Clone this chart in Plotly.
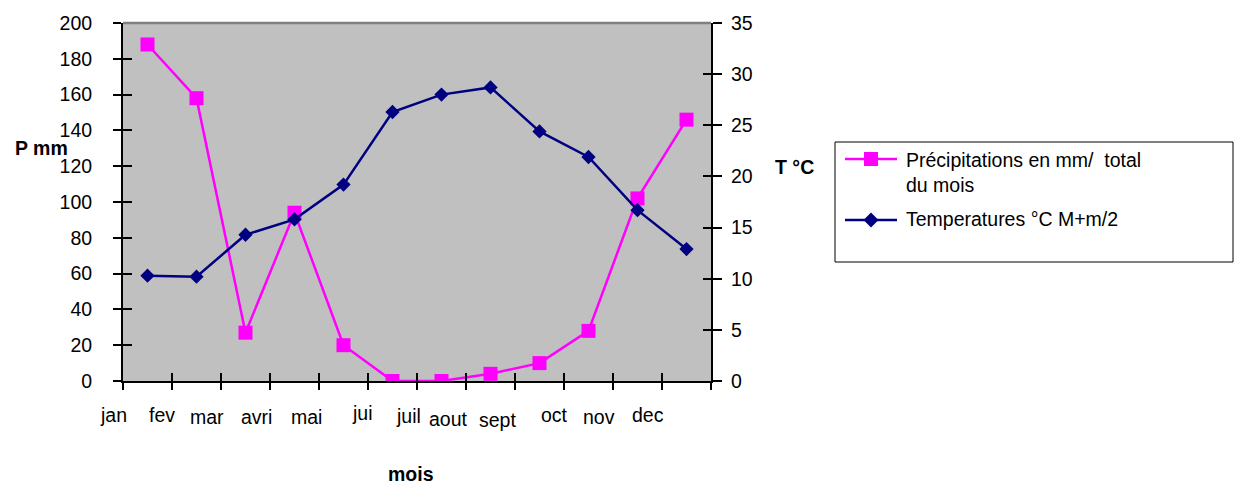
import plotly.graph_objects as go

# Monthly climate data
months = ["jan", "fev", "mar", "avri", "mai", "jui", "juil", "aout", "sept", "oct", "nov", "dec"]
precip_mm = [188, 158, 27, 94, 20, 0, 0, 4, 10, 28, 102, 146]
temp_c = [10.3, 10.2, 14.3, 15.8, 19.2, 26.3, 28.0, 28.7, 24.4, 21.9, 16.7, 12.9]

precip_name = "Précipitations en mm/\u00a0 total<br>du mois"
temp_name = "Temperatures °C M+m/2"

# Month label placement (offset in category units, distance below axis in px)
label_dx = [-0.70, -0.71, -0.78, -0.78, -0.76, -0.62, -0.68, -0.86, -0.86, -0.69, -0.78, -0.78]
label_dy = [39.7, 39.7, 41.7, 41.7, 41.7, 38.3, 40.5, 44.0, 44.5, 39.7, 41.7, 39.7]

W, H = 1240, 486
L, R, T, B = 123, 711, 23, 381
FONT = "Arial, 'Liberation Sans', sans-serif"
PINK = "#FF00FF"
NAVY = "#000080"
FS = 19.5

def px(x):
    return (x - L) / (R - L)

def py(y):
    return (B - y) / (B - T)

n = len(months)
xs = list(range(n))
bounds = [i - 0.5 for i in range(n + 1)]

fig = go.Figure()
fig.add_trace(go.Scatter(
    x=xs, y=precip_mm, name=precip_name, mode="lines+markers",
    line=dict(color=PINK, width=2.5),
    marker=dict(symbol="square", size=14, color=PINK),
    xaxis="x", yaxis="y",
))
fig.add_trace(go.Scatter(
    x=xs, y=temp_c, name=temp_name, mode="lines+markers",
    line=dict(color=NAVY, width=2.5),
    marker=dict(symbol="diamond", size=11, color=NAVY),
    xaxis="x", yaxis="y2",
))
# empty traces that carry the inner halves of the tick marks
fig.add_trace(go.Scatter(x=[], y=[], xaxis="x2", yaxis="y3", showlegend=False))
fig.add_trace(go.Scatter(x=[], y=[], xaxis="x2", yaxis="y4", showlegend=False))

tickfont = dict(family=FONT, size=FS, color="black")
common_x = dict(range=[-0.5, n - 0.5], tickmode="array", tickvals=bounds,
                showticklabels=False, showgrid=False, zeroline=False,
                tickwidth=1.5, tickcolor="black", fixedrange=True)

fig.update_layout(
    width=W, height=H,
    margin=dict(l=L, r=W - R, t=T, b=H - B, pad=0),
    paper_bgcolor="white",
    plot_bgcolor="#C0C0C0",
    showlegend=False,
    xaxis=dict(**common_x, ticks="outside", ticklen=7, showline=True,
               linecolor="black", linewidth=2, anchor="y"),
    xaxis2=dict(**common_x, ticks="inside", ticklen=8, showline=False,
                overlaying="x", anchor="y3", side="bottom"),
    yaxis=dict(range=[0, 200], dtick=20, tick0=0, ticks="outside", ticklen=8,
               tickwidth=1.5, tickcolor="black", showline=True, linecolor="black",
               linewidth=2, showgrid=False, zeroline=False, tickfont=tickfont,
               ticklabelstandoff=17, anchor="x"),
    yaxis2=dict(range=[0, 35], dtick=5, tick0=0, ticks="outside", ticklen=9,
                tickwidth=1.5, tickcolor="black", showline=True, linecolor="black",
                linewidth=2, showgrid=False, zeroline=False, tickfont=tickfont,
                ticklabelstandoff=5, side="right", overlaying="y", anchor="x"),
    yaxis3=dict(range=[0, 200], dtick=20, tick0=0, ticks="inside", ticklen=9,
                tickwidth=1.5, tickcolor="black", showline=False, showgrid=False,
                zeroline=False, showticklabels=False, overlaying="y", anchor="x2",
                side="left"),
    yaxis4=dict(range=[0, 35], dtick=5, tick0=0, ticks="inside", ticklen=8,
                tickwidth=1.5, tickcolor="black", showline=False, showgrid=False,
                zeroline=False, showticklabels=False, overlaying="y", anchor="x2",
                side="right"),
)

shapes = []
# grey top border of the plot area
shapes.append(dict(type="line", xref="paper", yref="paper", x0=0, x1=1, y0=1, y1=1,
                   line=dict(color="#808080", width=2.5)))

# legend box and samples
shapes.append(dict(type="rect", xref="paper", yref="paper",
                   x0=px(835), x1=px(1233), y0=py(142), y1=py(262),
                   line=dict(color="black", width=1), fillcolor="white", layer="below"))
leg_y1, leg_y2 = 159, 220
lx0, lx1, lxc = 845, 897, 871
shapes.append(dict(type="line", xref="paper", yref="paper",
                   x0=px(lx0), x1=px(lx1), y0=py(leg_y1), y1=py(leg_y1),
                   line=dict(color=PINK, width=2.5)))
shapes.append(dict(type="rect", xref="paper", yref="paper",
                   x0=px(lxc - 7), x1=px(lxc + 7), y0=py(leg_y1 - 7), y1=py(leg_y1 + 7),
                   line=dict(width=0), fillcolor=PINK))
shapes.append(dict(type="line", xref="paper", yref="paper",
                   x0=px(lx0), x1=px(lx1), y0=py(leg_y2), y1=py(leg_y2),
                   line=dict(color=NAVY, width=2.5)))
d = 7.5
diamond = "M {:.5f},{:.5f} L {:.5f},{:.5f} L {:.5f},{:.5f} L {:.5f},{:.5f} Z".format(
    px(lxc - d), py(leg_y2), px(lxc), py(leg_y2 - d),
    px(lxc + d), py(leg_y2), px(lxc), py(leg_y2 + d))
shapes.append(dict(type="path", xref="paper", yref="paper", path=diamond,
                   line=dict(width=0), fillcolor=NAVY))
fig.update_layout(shapes=shapes)

annotations = []
for i, (m, dx, dy) in enumerate(zip(months, label_dx, label_dy)):
    # month labels sit between the category ticks, placed in paper units
    xp = (i + dx + 0.5) / n
    annotations.append(dict(text=m, x=xp, y=0, xref="paper", yref="paper",
                            xanchor="center", yanchor="middle", yshift=-(dy - 6),
                            showarrow=False, font=dict(family=FONT, size=FS, color="black")))

bold = dict(family=FONT, size=FS, color="black", weight="bold")
annotations.append(dict(text="<b>P mm</b>", x=px(41), y=py(148), xref="paper", yref="paper",
                        xanchor="center", yanchor="middle", showarrow=False, font=bold))
annotations.append(dict(text="<b>T °C</b>", x=px(794), y=py(167), xref="paper", yref="paper",
                        xanchor="center", yanchor="middle", showarrow=False, font=bold))
annotations.append(dict(text="<b>mois</b>", x=px(411), y=py(486), xref="paper", yref="paper",
                        xanchor="center", yanchor="bottom", borderpad=0, showarrow=False,
                        font=bold))

legfont = dict(family=FONT, size=FS, color="black")
annotations.append(dict(text=precip_name, x=px(904), y=py(172.5), xref="paper", yref="paper",
                        xanchor="left", yanchor="middle", align="left", showarrow=False,
                        font=legfont))
annotations.append(dict(text=temp_name, x=px(904), y=py(219), xref="paper", yref="paper",
                        xanchor="left", yanchor="middle", align="left", showarrow=False,
                        font=legfont))
fig.update_layout(annotations=annotations)

fig.write_html("out.html")
